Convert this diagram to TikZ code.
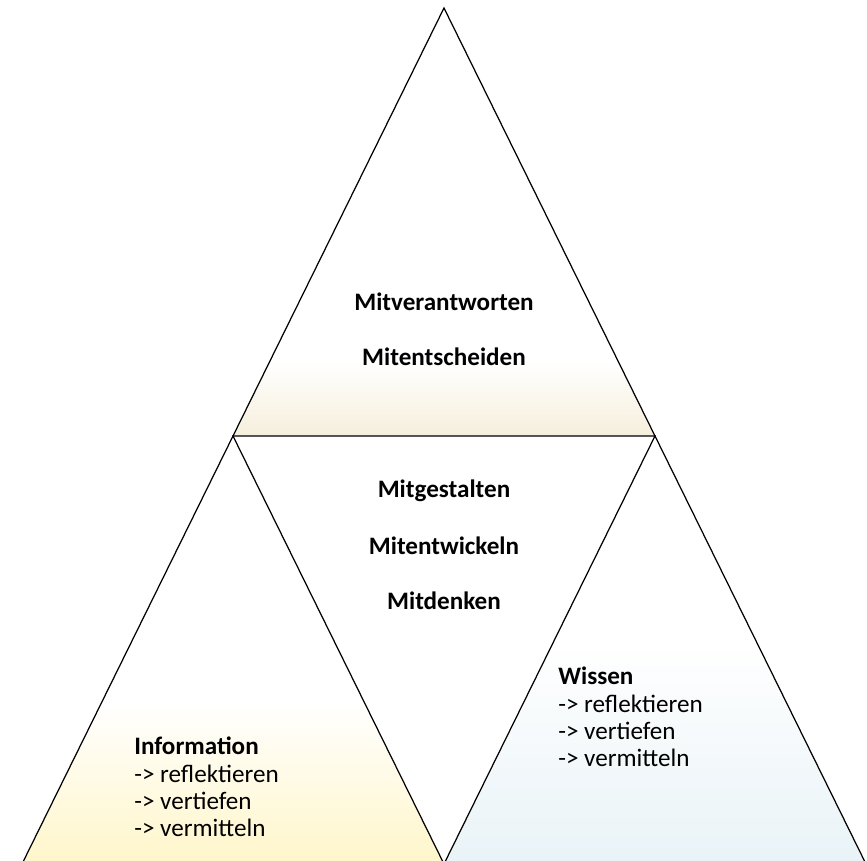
\documentclass[tikz,border=0pt]{standalone}
\usepackage{fontspec}
\setmainfont{Carlito}
\definecolor{scanbeige}{HTML}{F6EFDC}
\definecolor{scanyellow}{HTML}{FFF6CA}
\definecolor{scanblue}{HTML}{E9F3F7}
\begin{document}
\begin{tikzpicture}[
        x=0.02cm, y=-0.02cm,
        edge/.style={draw=black,line width=0.7pt,line join=miter},
        title/.style={font=\fontsize{14.3}{15.6}\selectfont\bfseries,inner sep=0pt},
        list/.style={font=\fontsize{14.3}{15.6}\selectfont,align=left,inner sep=0pt,anchor=west}
    ]
        \useasboundingbox (0,0) rectangle (867,861);

        % Define the corners
        \coordinate (Top) at (444,8);
        \coordinate (MidL) at (233,436);
        \coordinate (MidR) at (655,436);
        \coordinate (BotL) at (22,864);
        \coordinate (BotM) at (444,864);
        \coordinate (BotR) at (866,864);

        % Faint tint of the paper
        \begin{scope}
            \clip (Top) -- (MidL) -- (MidR) -- cycle;
            \shade[top color=white,bottom color=scanbeige] (200,360) rectangle (700,436);
        \end{scope}
        \begin{scope}
            \clip (MidL) -- (BotL) -- (BotM) -- cycle;
            \shade[top color=white,bottom color=scanyellow] (0,700) rectangle (460,864);
        \end{scope}
        \begin{scope}
            \clip (MidR) -- (BotM) -- (BotR) -- cycle;
            \shade[top color=white,bottom color=scanblue] (420,640) rectangle (867,864);
        \end{scope}

        % Draw the big triangle and the inner one
        \draw[edge] (Top) -- (BotL) -- (BotR) -- cycle;
        \draw[edge] (MidL) -- (MidR) -- (BotM) -- cycle;

        % Top triangle
        \node[title] (verant) at (444,302) {Mitverantworten};
        \node[title] (entsch) at (444,357) {Mitentscheiden};

        % Middle triangle
        \node[title] (gestalt) at (444,491) {Mitgestalten};
        \node[title] (entwick) at (444,546) {Mitentwickeln};
        \node[title] (denken) at (444,601) {Mitdenken};

        % Bottom triangles
        \node[list] (info) at (134,787) {\textbf{Information}\\-> reflektieren\\-> vertiefen\\-> vermitteln};
        \node[list] (wissen) at (558,717) {\textbf{Wissen}\\-> reflektieren\\-> vertiefen\\-> vermitteln};
    \end{tikzpicture}
\end{document}
